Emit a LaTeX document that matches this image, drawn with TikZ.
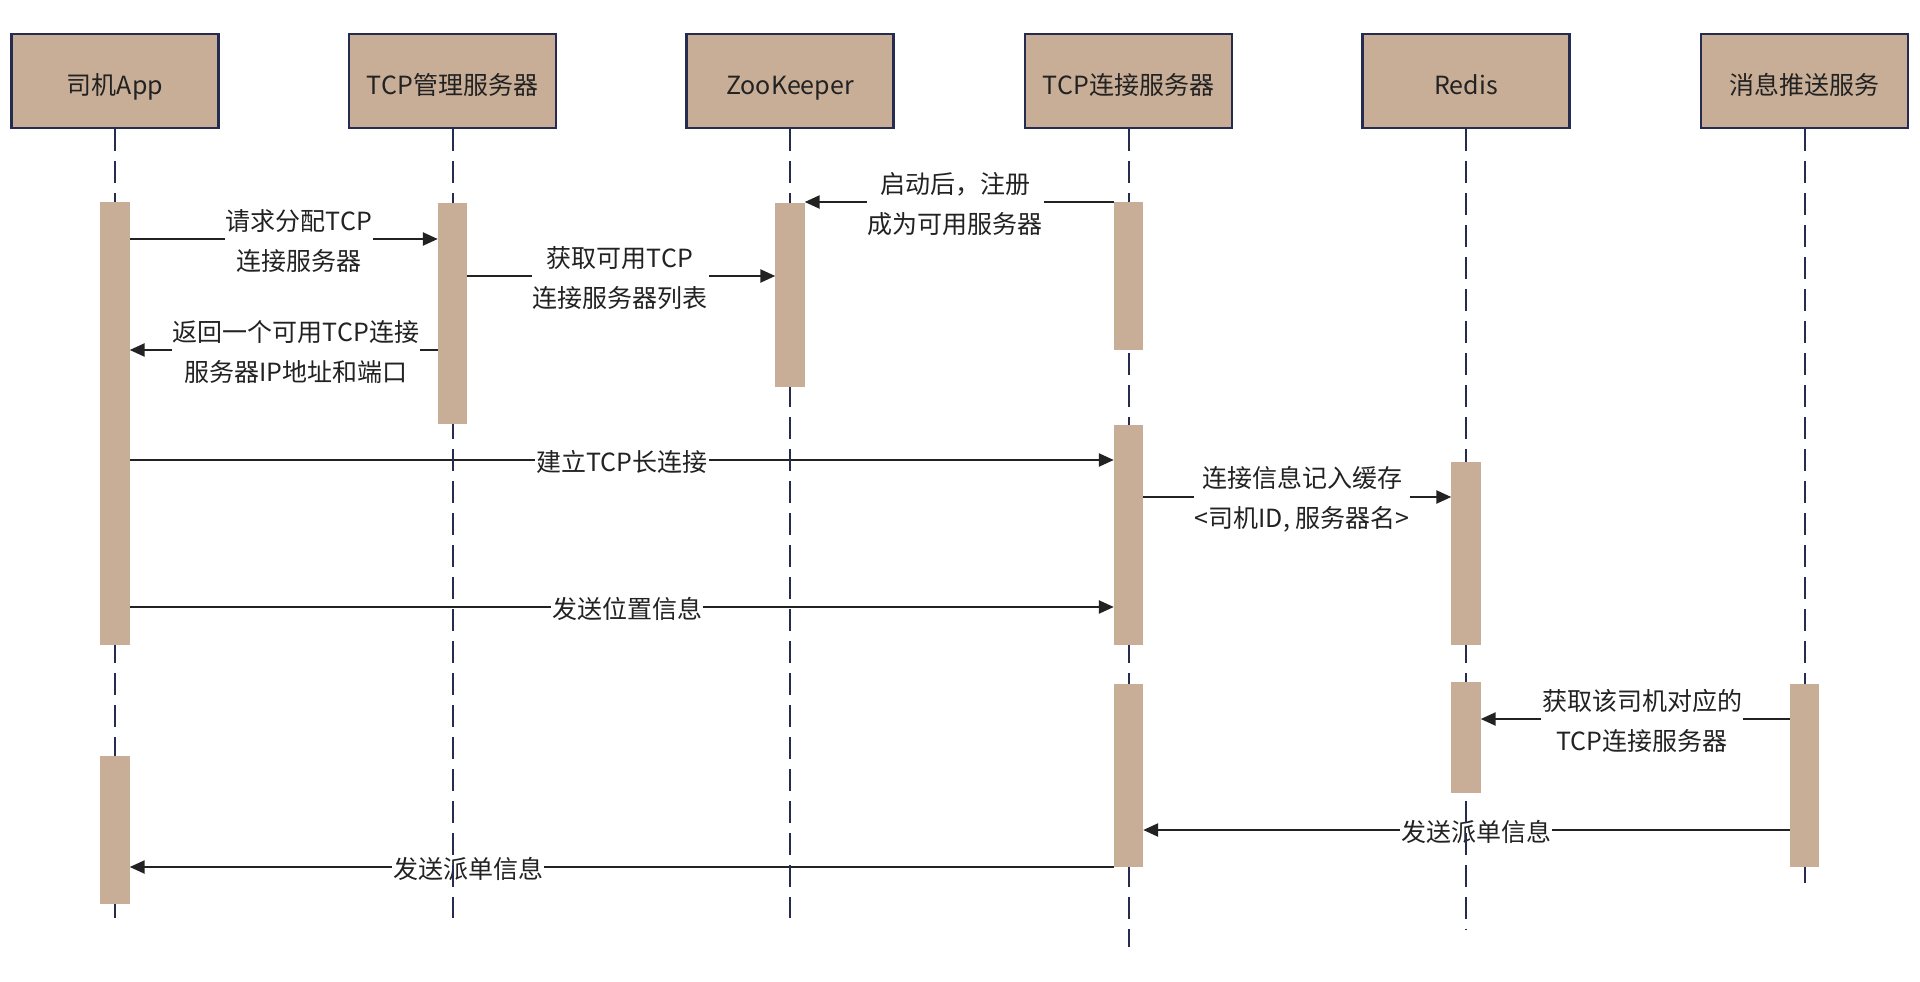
\documentclass[tikz,border=0pt]{standalone}
\usepackage{fontspec}
\setmainfont{Noto Sans CJK SC}
\usetikzlibrary{arrows.meta}
\definecolor{tan}{HTML}{C8AE97}
\definecolor{navy}{HTML}{252C50}
\definecolor{ink}{HTML}{222222}
\tikzset{
  actor/.style={draw=navy,line width=2.2pt,fill=tan,minimum width=207pt,minimum height=94pt,inner sep=0pt,
    font=\fontsize{25}{30}\selectfont,text=ink,text height=28pt,text depth=0pt},
  bar/.style={fill=tan,draw=none,minimum width=29pt,inner sep=0pt,anchor=north},
  lifeline/.style={draw=navy,line width=2pt,dash pattern=on 22pt off 10pt},
  msg/.style={draw=ink,line width=2.4pt,-{Triangle[length=15pt,width=13pt]}},
  lbl/.style={fill=white,inner sep=1pt,align=center,text=ink,font=\fontsize{25}{40}\selectfont},
}
\begin{document}
\begin{tikzpicture}[x=1pt,y=-1pt]
\useasboundingbox (0,0) rectangle (1920,982);
% actors
\node[actor] (A) at (115,81) {司机App};
\node[actor] (B) at (452.5,81) {TCP管理服务器};
\node[actor] (C) at (790,81) {ZooKeeper};
\node[actor] (D) at (1128.5,81) {TCP连接服务器};
\node[actor] (E) at (1466,81) {Redis};
\node[actor] (F) at (1804.5,81) {消息推送服务};
% end points of lifelines
\coordinate (Ae) at (115,918);
\coordinate (Be) at (452.5,918);
\coordinate (Ce) at (790,918);
\coordinate (De) at (1128.5,947);
\coordinate (Ee) at (1466,930);
\coordinate (Fe) at (1804.5,883);
% activation bars as nodes (positions)
\path
  node[bar,minimum height=443pt] (a1) at (115,202) {}
  node[bar,minimum height=148pt] (a2) at (115,756) {}
  node[bar,minimum height=221pt] (b1) at (452.5,203) {}
  node[bar,minimum height=184pt] (c1) at (790,203) {}
  node[bar,minimum height=148pt] (d1) at (1128.5,202) {}
  node[bar,minimum height=220pt] (d2) at (1128.5,425) {}
  node[bar,minimum height=183pt] (d3) at (1128.5,684) {}
  node[bar,minimum height=183pt] (e1) at (1466,462) {}
  node[bar,minimum height=111pt] (e2) at (1466,682) {}
  node[bar,minimum height=183pt] (f1) at (1804.5,684) {};
% arrows
\draw[msg] (d1.west |- 0,202) -- (c1.east |- 0,202);
\draw[msg] (a1.east |- 0,239) -- (b1.west |- 0,239);
\draw[msg] (b1.east |- 0,276) -- (c1.west |- 0,276);
\draw[msg] (b1.west |- 0,350) -- (a1.east |- 0,350);
\draw[msg] (a1.east |- 0,460) -- (d2.west |- 0,460);
\draw[msg] (d2.east |- 0,497) -- (e1.west |- 0,497);
\draw[msg] (a1.east |- 0,607) -- (d2.west |- 0,607);
\draw[msg] (f1.west |- 0,719) -- (e2.east |- 0,719);
\draw[msg] (f1.west |- 0,830) -- (d3.east |- 0,830);
\draw[msg] (d3.west |- 0,867) -- (a2.east |- 0,867);
% labels
\node[lbl] (l1) at (955,204) {启动后，注册\\成为可用服务器};
\node[lbl] (l2) at (299,241) {请求分配TCP\\连接服务器};
\node[lbl] (l3) at (620,278) {获取可用TCP\\连接服务器列表};
\node[lbl] (l4) at (296,352) {返回一个可用TCP连接\\服务器IP地址和端口};
\node[lbl] (l5) at (622,462) {建立TCP长连接};
\node[lbl] (l6) at (1302,499) {连接信息记入缓存\\<司机ID, 服务器名>};
\node[lbl] (l7) at (627,609) {发送位置信息};
\node[lbl] (l8) at (1642,721) {获取该司机对应的\\TCP连接服务器};
\node[lbl] (l9) at (1476,832) {发送派单信息};
\node[lbl] (l10) at (468,869) {发送派单信息};
% lifelines
\draw[lifeline] (A.south) -- (Ae);
\draw[lifeline] (B.south) -- (Be);
\draw[lifeline] (C.south) -- (Ce);
\draw[lifeline] (D.south) -- (De);
\draw[lifeline] (E.south) -- (Ee);
\draw[lifeline] (F.south) -- (Fe);
% bars drawn on top of lifelines
\foreach \n in {a1,a2,b1,c1,d1,d2,d3,e1,e2,f1}
  \fill[tan] (\n.north west) rectangle (\n.south east);
\end{tikzpicture}
\end{document}
